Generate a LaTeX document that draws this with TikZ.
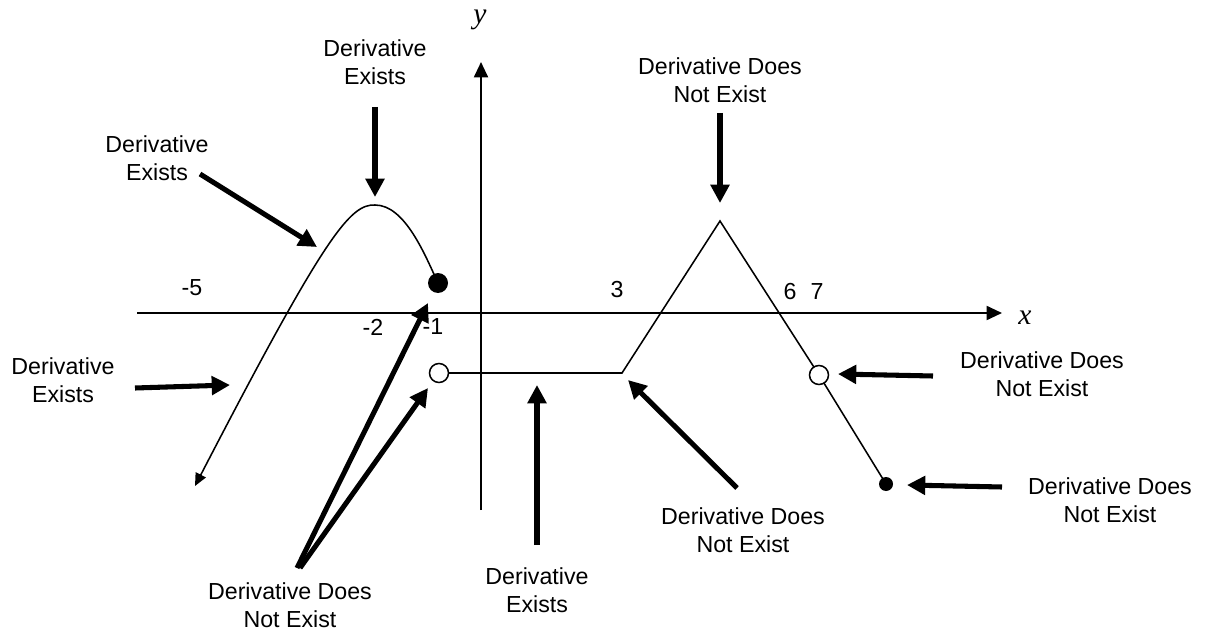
\documentclass[tikz,border=0pt]{standalone}
\usepackage{fontspec}
\setmainfont{Liberation Sans}
\newfontfamily\axisfont{Liberation Serif}
\usetikzlibrary{arrows.meta, positioning, calc}

\tikzset{
  lbl/.style={font=\fontsize{16.5}{19.5}\selectfont, align=center, inner sep=0pt},
  ticklbl/.style={font=\fontsize{16.5}{19.5}\selectfont, inner sep=0pt},
  pointer/.style={line width=3.6pt, -{Triangle[length=13pt, width=13pt]}},
  curve/.style={line width=1.1pt},
  axis/.style={line width=1.5pt, -{Triangle[length=11pt, width=10pt]}}
}

\begin{document}
\begin{tikzpicture}[x=0.025cm, y=-0.025cm]

% Canvas — pixel grid of the original, y downward
\useasboundingbox (0,0) rectangle (1211,630);

% Axes
\coordinate (xl) at (137,313);
\coordinate (xr) at (1002,313);
\coordinate (yb) at (481,510);
\coordinate (yt) at (481,62);
\draw[axis] (xl) -- (xr);
\draw[axis] (yb) -- (yt);
\node[font=\axisfont\itshape\fontsize{21}{24}\selectfont] (xlab) at (1025,318) {x};
\node[font=\axisfont\itshape\fontsize{21}{24}\selectfont] (ylab) at (480,20) {y};

% Tick labels
\node[ticklbl] (tm5) at (192,288) {-5};
\node[ticklbl] (tm2) at (373,327) {-2};
\node[ticklbl] (tm1) at (433,327) {-1};
\node[ticklbl] (t3) at (617,290) {3};
\node[ticklbl] (t6) at (790,292) {6};
\node[ticklbl] (t7) at (817,292) {7};

% Graph: parabola piece ending in a filled dot at x=-1
\coordinate (farL) at (195,486);
\coordinate (top) at (375,205);
\coordinate (fdot) at (438,283);
\draw[curve, {Triangle[length=9pt, width=8pt]}-]
  (farL) .. controls (325,235) and (350,204) .. (top)
         .. controls (405,205) and (425,255) .. (fdot);

% Flat piece, corner at x=3, peak, hole and end point
\coordinate (hole1) at (439,373);
\coordinate (corner) at (622,373);
\coordinate (peak) at (720,221);
\coordinate (hole2) at (819,375);
\coordinate (endpt) at (886,484);
\draw[curve] (hole1) -- (corner) -- (peak) -- (hole2) -- (endpt);

\fill (fdot) circle (10);
\fill (endpt) circle (7);
\draw[curve, fill=white] (hole1) circle (9.5);
\draw[curve, fill=white] (hole2) circle (9.5);

% Labels
\node[lbl] (exA) at (375,62) {Derivative\\Exists};
\node[lbl] (exB) at (157,158) {Derivative\\Exists};
\node[lbl] (exC) at (63,380) {Derivative\\Exists};
\node[lbl] (exE) at (537,590) {Derivative\\Exists};
\node[lbl] (dneD) at (290,605) {Derivative Does\\Not Exist};
\node[lbl] (dneF) at (743,530) {Derivative Does\\Not Exist};
\node[lbl] (dneG) at (720,80) {Derivative Does\\Not Exist};
\node[lbl] (dneH) at (1042,374) {Derivative Does\\Not Exist};
\node[lbl] (dneI) at (1110,500) {Derivative Does\\Not Exist};

% Pointer ends: tails under the labels, tips at the graph
\coordinate (tailA) at (375,107);   \coordinate (tipA) at (375,197);
\coordinate (tailB) at (200,174);   \coordinate (tipB) at (317,247);
\coordinate (tailC) at (135,388);   \coordinate (tipC) at (230,385);
\coordinate (tailD1) at (297,568);  \coordinate (tipD1) at (428,303);
\coordinate (tailD2) at (300,568);  \coordinate (tipD2) at (428,388);
\coordinate (tailE) at (537,545);   \coordinate (tipE) at (537,385);
\coordinate (tailF) at (737,488);   \coordinate (tipF) at (628,380);
\coordinate (tailG) at (720,113);   \coordinate (tipG) at (720,203);
\coordinate (tailH) at (933,376);   \coordinate (tipH) at (838,374);
\coordinate (tailI) at (1002,487);  \coordinate (tipI) at (907,485);

\foreach \p in {A,B,C,D1,D2,E,F,G,H,I}
  \draw[pointer] (tail\p) -- (tip\p);

\end{tikzpicture}
\end{document}
